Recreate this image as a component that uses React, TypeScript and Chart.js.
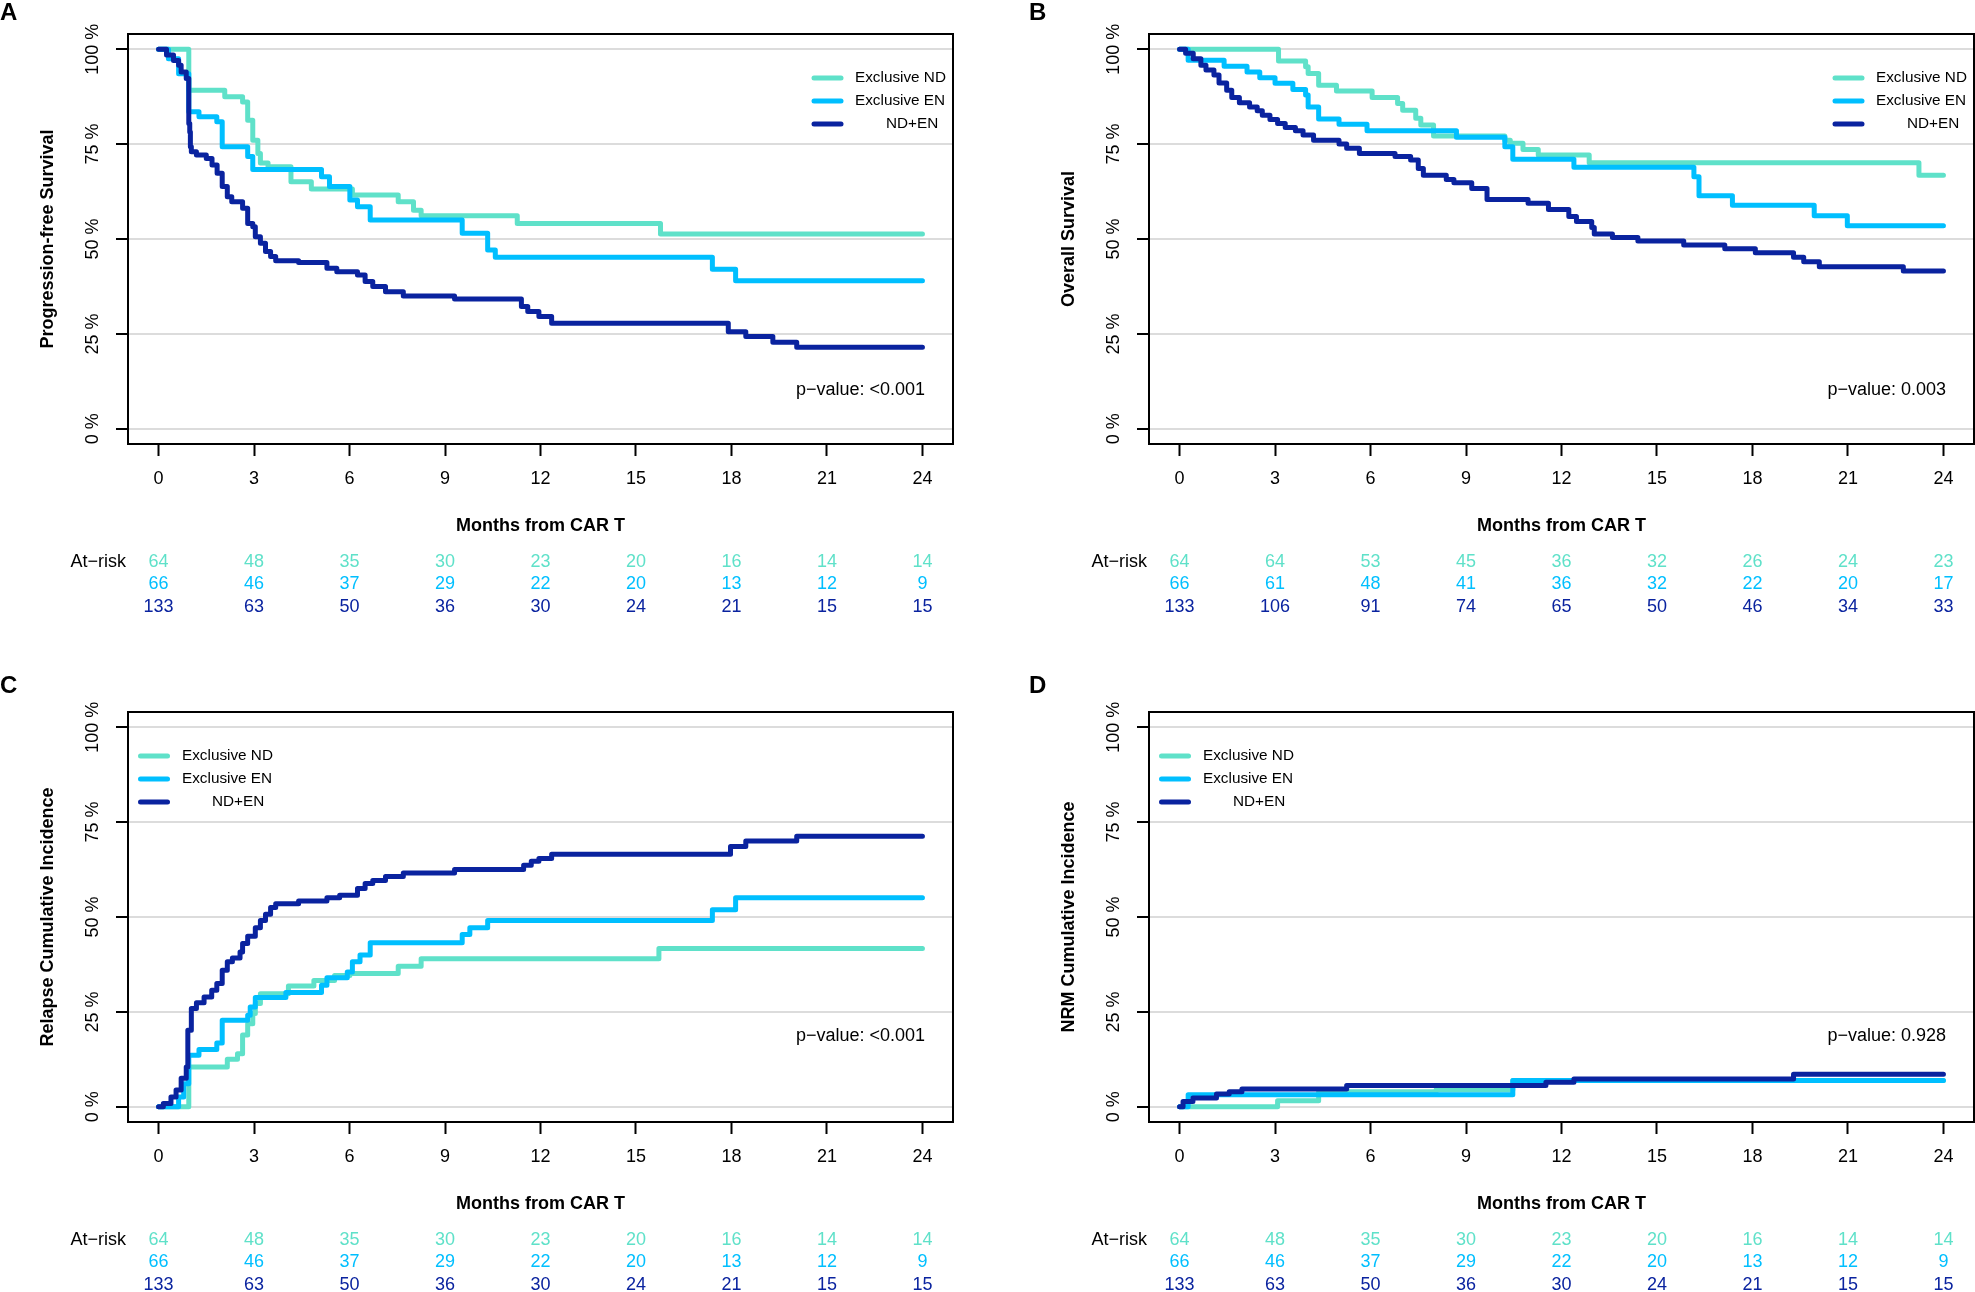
import { useEffect, useRef } from "react";
import { Chart, registerables } from "chart.js";

Chart.register(...registerables);

const FONT = "'Liberation Sans', Arial, Helvetica, sans-serif";
Chart.defaults.font.family = FONT;

// colours of the three groups
const COL_ND = "#5fe1c9";
const COL_EN = "#00bfff";
const COL_BOTH = "#0a239f";

const groupNames = ["Exclusive ND", "Exclusive EN", "ND+EN"];
const monthTicks = [0, 3, 6, 9, 12, 15, 18, 21, 24];
const pctTicks = [0, 25, 50, 75, 100];

// [month, %] steps, value holds from that month on
const pfsNd = [
  [0, 100], [0.95, 89.2], [2.08, 87.5], [2.64, 86.1], [2.8, 81.3], [2.96, 76.0],
  [3.12, 72.5], [3.2, 70.0], [3.44, 69.0], [4.16, 65.1], [4.8, 63.2], [6.09, 61.6],
  [7.53, 59.8], [8.01, 57.6], [8.25, 56.1], [11.27, 54.1], [15.77, 51.3], [24, 51.3],
];
const pfsEn = [
  [0, 100], [0.31, 97.5], [0.63, 93.5], [0.95, 83.5], [1.27, 82.2], [1.83, 80.9],
  [2.0, 74.3], [2.8, 71.7], [2.96, 68.3], [5.12, 66.4], [5.37, 63.8], [6.01, 60.3],
  [6.25, 58.5], [6.65, 55.0], [9.54, 51.5], [10.34, 47.1], [10.58, 45.2], [17.4, 42.0],
  [18.13, 39.0], [24, 39.0],
];
const pfsBoth = [
  [0, 100], [0.25, 98.5], [0.47, 97], [0.63, 95.8], [0.71, 94], [0.87, 92.3],
  [0.95, 80.4], [0.98, 78.2], [1.0, 74.3], [1.03, 73], [1.19, 72.1], [1.5, 71.2],
  [1.68, 69.5], [1.84, 67.3], [2.0, 63.8], [2.16, 61.1], [2.3, 59.8], [2.64, 58.1],
  [2.8, 54.1], [2.96, 53.2], [3.04, 50.6], [3.2, 48.9], [3.36, 46.7], [3.52, 45.4],
  [3.68, 44.3], [4.4, 43.8], [5.29, 42.3], [5.6, 41.4], [6.25, 40.5], [6.49, 38.8],
  [6.73, 37.5], [7.13, 36.1], [7.69, 35.0], [9.3, 34.2], [11.4, 32.2], [11.6, 30.9],
  [11.95, 29.6], [12.35, 27.8], [17.9, 25.6], [18.45, 24.3], [19.3, 22.8], [20.05, 21.5],
  [24, 21.5],
];

const osNd = [
  [0, 100], [3.11, 96.9], [3.96, 95.4], [4.04, 93.6], [4.37, 90.5], [4.93, 89.0],
  [6.05, 87.3], [6.85, 85.7], [7.01, 83.9], [7.42, 81.8], [7.58, 80.0], [7.98, 77.1],
  [10.22, 76.0], [10.39, 75.2], [10.79, 73.6], [11.27, 72.1], [12.87, 70.1],
  [23.23, 66.8], [24, 66.8],
];
const osEn = [
  [0, 100], [0.27, 97.1], [1.4, 95.5], [2.12, 94.0], [2.52, 92.5], [3.0, 91.0],
  [3.56, 89.4], [3.96, 87.9], [4.04, 84.8], [4.37, 81.6], [5.01, 80.2], [5.89, 78.5],
  [8.7, 76.8], [10.22, 74.3], [10.47, 71.0], [12.39, 68.9], [16.16, 66.4], [16.32, 61.4],
  [17.37, 58.9], [19.94, 56.1], [20.98, 53.5], [24, 53.5],
];
const osBoth = [
  [0, 100], [0.19, 98.9], [0.43, 97.5], [0.67, 95.8], [0.83, 94.5], [1.08, 93.2],
  [1.24, 91.1], [1.48, 89.2], [1.64, 87.3], [1.88, 85.9], [2.2, 84.8], [2.44, 83.8],
  [2.6, 82.6], [2.84, 81.5], [3.08, 80.4], [3.32, 79.4], [3.64, 78.5], [3.88, 77.4],
  [4.21, 76.0], [5.01, 75.0], [5.25, 73.9], [5.65, 72.5], [6.77, 71.7], [7.26, 70.8],
  [7.5, 68.6], [7.66, 66.8], [8.38, 65.7], [8.62, 64.8], [9.18, 63.3], [9.66, 60.4],
  [10.95, 59.4], [11.59, 57.8], [12.23, 55.9], [12.47, 54.6], [12.95, 53.0],
  [13.03, 51.3], [13.6, 50.4], [14.4, 49.5], [15.84, 48.4], [17.13, 47.4],
  [18.09, 46.4], [19.29, 45.2], [19.61, 44.0], [20.1, 42.7], [22.74, 41.6], [24, 41.6],
];

const relNd = [
  [0, 0], [0.95, 10.5], [2.16, 12.5], [2.48, 14.0], [2.64, 18.9], [2.8, 21.9],
  [2.96, 24.6], [3.04, 27.2], [3.2, 29.8], [4.08, 31.8], [4.88, 33.3], [5.53, 34.6],
  [6.01, 35.1], [7.53, 37.0], [8.25, 39.0], [15.72, 41.7], [24, 41.7],
];
const relEn = [
  [0, 0], [0.63, 2.6], [0.79, 6.1], [0.95, 13.6], [1.27, 15.1], [1.83, 16.8],
  [2.0, 22.8], [2.8, 24.1], [2.88, 26.3], [3.04, 28.8], [4.0, 30.1], [5.12, 32.0],
  [5.29, 34.0], [5.93, 35.5], [6.09, 38.2], [6.33, 40.0], [6.65, 43.2], [9.54, 45.4],
  [9.78, 47.2], [10.34, 49.1], [17.4, 51.9], [18.13, 55.1], [24, 55.1],
];
const relBoth = [
  [0, 0], [0.15, 0.9], [0.39, 2.6], [0.55, 4.4], [0.71, 7.5], [0.87, 10.5],
  [0.92, 20.2], [1.03, 25.9], [1.19, 27.4], [1.43, 28.9], [1.67, 30.7], [1.83, 32.5],
  [2.0, 36.0], [2.16, 38.2], [2.32, 39.2], [2.56, 40.8], [2.64, 43.0], [2.8, 44.9],
  [3.04, 47.2], [3.2, 49.1], [3.36, 50.7], [3.52, 52.5], [3.68, 53.5], [4.4, 54.2],
  [5.29, 55.1], [5.69, 55.7], [6.25, 57.5], [6.49, 58.8], [6.73, 59.6], [7.13, 60.7],
  [7.69, 61.6], [9.3, 62.5], [11.47, 63.6], [11.71, 64.7], [11.95, 65.4], [12.35, 66.5],
  [17.97, 68.6], [18.45, 70.0], [20.05, 71.3], [24, 71.3],
];

const nrmNd = [[0, 0], [3.08, 1.6], [4.37, 4.0], [8.06, 4.5], [10.47, 6.9], [24, 6.9]];
const nrmEn = [[0, 0], [0.27, 3.2], [10.47, 6.9], [24, 6.9]];
const nrmBoth = [
  [0, 0], [0.11, 1.4], [0.42, 2.3], [1.16, 3.4], [1.56, 4.0], [1.96, 4.7],
  [5.25, 5.6], [11.51, 6.5], [12.39, 7.3], [19.29, 8.6], [24, 8.6],
];

// numbers at risk at each month tick
const riskNd = [64, 48, 35, 30, 23, 20, 16, 14, 14];
const riskEn = [66, 46, 37, 29, 22, 20, 13, 12, 9];
const riskBoth = [133, 63, 50, 36, 30, 24, 21, 15, 15];
const osRiskNd = [64, 64, 53, 45, 36, 32, 26, 24, 23];
const osRiskEn = [66, 61, 48, 41, 36, 32, 22, 20, 17];
const osRiskBoth = [133, 106, 91, 74, 65, 50, 46, 34, 33];

type Pts = number[][];

interface PanelProps {
  width: number;
  height: number;
  yTitle: string;
  pValue: string;
  pValueY: number;
  legendSide: "left" | "right";
  nd: Pts;
  en: Pts;
  both: Pts;
  risk: number[][];
}

function KmPanel(p: PanelProps) {
  const canvasRef = useRef<HTMLCanvasElement>(null);

  useEffect(() => {
    const canvas = canvasRef.current;
    if (!canvas) return;
    const colors = [COL_ND, COL_EN, COL_BOTH];

    const decor = {
      id: "kmDecor",
      afterDraw(chart: Chart) {
        const { ctx, chartArea: a } = chart;
        const x = chart.scales.x;
        const y = chart.scales.y;
        ctx.save();
        ctx.strokeStyle = "#000";
        ctx.lineWidth = 2;
        ctx.strokeRect(a.left, a.top, a.right - a.left, a.bottom - a.top);

        ctx.fillStyle = "#000";
        ctx.textAlign = "center";
        ctx.textBaseline = "middle";
        ctx.font = `18px ${FONT}`;
        pctTicks.forEach((v) => {
          ctx.save();
          ctx.translate(a.left - 35, y.getPixelForValue(v));
          ctx.rotate(-Math.PI / 2);
          ctx.fillText(`${v} %`, 0, 0);
          ctx.restore();
        });
        monthTicks.forEach((m) => {
          ctx.fillText(String(m), x.getPixelForValue(m), a.bottom + 35);
        });

        ctx.font = `bold 18px ${FONT}`;
        ctx.fillText("Months from CAR T", (a.left + a.right) / 2, a.bottom + 82);
        ctx.save();
        ctx.translate(a.left - 80, (a.top + a.bottom) / 2);
        ctx.rotate(-Math.PI / 2);
        ctx.fillText(p.yTitle, 0, 0);
        ctx.restore();

        // at-risk table
        ctx.font = `18px ${FONT}`;
        const rowY = [a.bottom + 118, a.bottom + 140, a.bottom + 163];
        ctx.textAlign = "right";
        ctx.fillText("At\u2212risk", a.left - 2, rowY[0]);
        ctx.textAlign = "center";
        p.risk.forEach((row, r) => {
          ctx.fillStyle = colors[r];
          row.forEach((n, i) => {
            ctx.fillText(String(n), x.getPixelForValue(monthTicks[i]), rowY[r]);
          });
        });

        // p-value
        ctx.fillStyle = "#000";
        ctx.textAlign = "right";
        ctx.fillText(p.pValue, a.right - 28, a.top + p.pValueY);

        // legend
        ctx.font = `15.3px ${FONT}`;
        ctx.textAlign = "left";
        ctx.lineCap = "round";
        ctx.lineWidth = 5;
        const l0 = p.legendSide === "right" ? a.right - 139 : a.left + 12.5;
        const txt = p.legendSide === "right" ? a.right - 98 : a.left + 54;
        const txtBoth = p.legendSide === "right" ? a.right - 67 : a.left + 84;
        [44, 67, 90].forEach((dy, i) => {
          const ly = a.top + dy;
          ctx.strokeStyle = colors[i];
          ctx.beginPath();
          ctx.moveTo(l0, ly);
          ctx.lineTo(l0 + 27, ly);
          ctx.stroke();
          ctx.fillStyle = "#000";
          ctx.fillText(groupNames[i], i === 2 ? txtBoth : txt, ly);
        });
        ctx.restore();
      },
    };

    const line = (pts: Pts, color: string) => ({
      data: pts.map(([m, v]) => ({ x: m, y: v })),
      borderColor: color,
      borderWidth: 5,
      stepped: "before" as const,
      pointRadius: 0,
      borderCapStyle: "round" as const,
      borderJoinStyle: "round" as const,
      fill: false,
    });

    const chart = new Chart(canvas, {
      type: "line",
      data: {
        // first dataset is drawn on top
        datasets: [line(p.both, COL_BOTH), line(p.en, COL_EN), line(p.nd, COL_ND)],
      },
      options: {
        animation: false,
        responsive: false,
        devicePixelRatio: 1,
        layout: { padding: { top: 34, right: p.width - 953, bottom: 0, left: 0 } },
        plugins: { legend: { display: false }, tooltip: { enabled: false } },
        scales: {
          x: {
            type: "linear",
            min: -0.96,
            max: 24.96,
            afterBuildTicks: (s) => {
              s.ticks = monthTicks.map((v) => ({ value: v }));
            },
            afterFit: (s) => {
              s.height = p.height - 444;
            },
            ticks: { display: false },
            border: { display: false },
            grid: {
              drawOnChartArea: false,
              drawTicks: true,
              tickLength: 12,
              tickWidth: 2,
              tickColor: "#000",
              color: "#000",
            },
          },
          y: {
            type: "linear",
            min: -4,
            max: 104,
            afterBuildTicks: (s) => {
              s.ticks = pctTicks.map((v) => ({ value: v }));
            },
            afterFit: (s) => {
              s.width = 128;
            },
            ticks: { display: false },
            border: { display: false },
            grid: {
              color: "#dcdcdc",
              lineWidth: 2,
              drawTicks: true,
              tickLength: 12,
              tickWidth: 2,
              tickColor: "#000",
            },
          },
        },
      },
      plugins: [decor],
    });

    return () => chart.destroy();
  }, [p]);

  return (
    <canvas
      ref={canvasRef}
      width={p.width}
      height={p.height}
      style={{ display: "block", width: p.width, height: p.height }}
    />
  );
}

const letterStyle = (left: number, top: number) => ({
  position: "absolute" as const,
  left,
  top,
  fontFamily: FONT,
  fontWeight: "bold" as const,
  fontSize: 24,
  lineHeight: "24px",
  color: "#000",
});

const panelA = {
  width: 987, height: 646, yTitle: "Progression-free Survival", pValue: "p\u2212value: <0.001",
  pValueY: 356, legendSide: "right" as const, nd: pfsNd, en: pfsEn, both: pfsBoth,
  risk: [riskNd, riskEn, riskBoth],
};
const panelB = {
  width: 954, height: 646, yTitle: "Overall Survival", pValue: "p\u2212value: 0.003",
  pValueY: 356, legendSide: "right" as const, nd: osNd, en: osEn, both: osBoth,
  risk: [osRiskNd, osRiskEn, osRiskBoth],
};
const panelC = {
  width: 987, height: 614, yTitle: "Relapse Cumulative Incidence", pValue: "p\u2212value: <0.001",
  pValueY: 324, legendSide: "left" as const, nd: relNd, en: relEn, both: relBoth,
  risk: [riskNd, riskEn, riskBoth],
};
const panelD = {
  width: 954, height: 614, yTitle: "NRM Cumulative Incidence", pValue: "p\u2212value: 0.928",
  pValueY: 324, legendSide: "left" as const, nd: nrmNd, en: nrmEn, both: nrmBoth,
  risk: [riskNd, riskEn, riskBoth],
};

export default function App() {
  useEffect(() => {
    document.body.style.margin = "0";
  }, []);

  return (
    <div
      style={{
        position: "absolute",
        left: 0,
        top: 0,
        width: 1975,
        height: 1292,
        background: "#fff",
        overflow: "hidden",
      }}
    >
      <div style={{ position: "absolute", left: 0, top: 0 }}>
        <KmPanel {...panelA} />
      </div>
      <div style={{ position: "absolute", left: 1021, top: 0 }}>
        <KmPanel {...panelB} />
      </div>
      <div style={{ position: "absolute", left: 0, top: 678 }}>
        <KmPanel {...panelC} />
      </div>
      <div style={{ position: "absolute", left: 1021, top: 678 }}>
        <KmPanel {...panelD} />
      </div>
      <div style={letterStyle(0, 0)}>A</div>
      <div style={letterStyle(1029, 0)}>B</div>
      <div style={letterStyle(0, 673)}>C</div>
      <div style={letterStyle(1029, 673)}>D</div>
    </div>
  );
}
